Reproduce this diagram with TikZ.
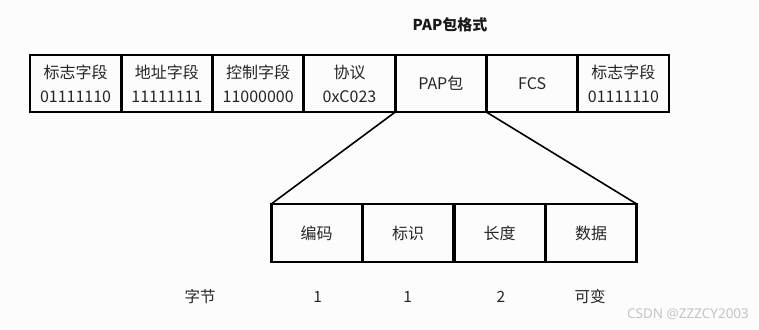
\documentclass[tikz,border=0pt]{standalone}
\usepackage{fontspec}
\setmainfont{Noto Sans CJK SC}
\newfontfamily\wmfont{Noto Sans}
\definecolor{bgc}{HTML}{FCFCFC}
\definecolor{wmc}{HTML}{C4C4C4}
\begin{document}
\begin{tikzpicture}[x=1pt,y=-1pt,
  field/.style={draw=black,line width=2.6pt,minimum width=91pt,minimum height=57pt,
    inner sep=0pt,outer sep=0pt,align=center,font=\fontsize{16}{24}\selectfont,text=black!85},
  lbl/.style={font=\fontsize{15.5}{18}\selectfont,text=black!85,inner sep=0pt},
  conn/.style={line width=1.6pt,black}]
\fill[bgc] (0,0) rectangle (759,329);
\useasboundingbox (0,0) rectangle (759,329);
\node[font=\fontsize{15}{18}\selectfont\bfseries,inner sep=0pt,text=black!90] (title) at (450,25) {PAP包格式};
\node[field] (f1) at (75.6,83.5) {标志字段\\01111110};
\node[field] (f2) at (166.9,83.5) {地址字段\\11111111};
\node[field] (f3) at (258.2,83.5) {控制字段\\11000000};
\node[field] (f4) at (349.5,83.5) {协议\\0xC023};
\node[field] (f5) at (440.8,83.5) {PAP包};
\node[field] (f6) at (532.1,83.5) {FCS};
\node[field] (f7) at (623.4,83.5) {标志字段\\01111110};
\node[field,minimum height=58pt] (e1) at (316.7,233) {编码};
\node[field,minimum height=58pt] (e2) at (408.2,233) {标识};
\node[field,minimum height=58pt] (e3) at (499.7,233) {长度};
\node[field,minimum height=58pt] (e4) at (591.2,233) {数据};
\draw[conn] (f5.south west) -- (e1.north west);
\draw[conn] (f5.south east) -- (e4.north east);
\node[lbl] (b0) at (200,297) {字节};
\node[lbl] (b1) at (317.7,297) {1};
\node[lbl] (b2) at (407.7,297) {1};
\node[lbl] (b3) at (501,297) {2};
\node[lbl] (b4) at (590,297) {可变};
\node[font=\wmfont\fontsize{13.5}{15}\selectfont,text=wmc,inner sep=0pt] (wm) at (688,314) {CSDN @ZZZCY2003};
\end{tikzpicture}
\end{document}
